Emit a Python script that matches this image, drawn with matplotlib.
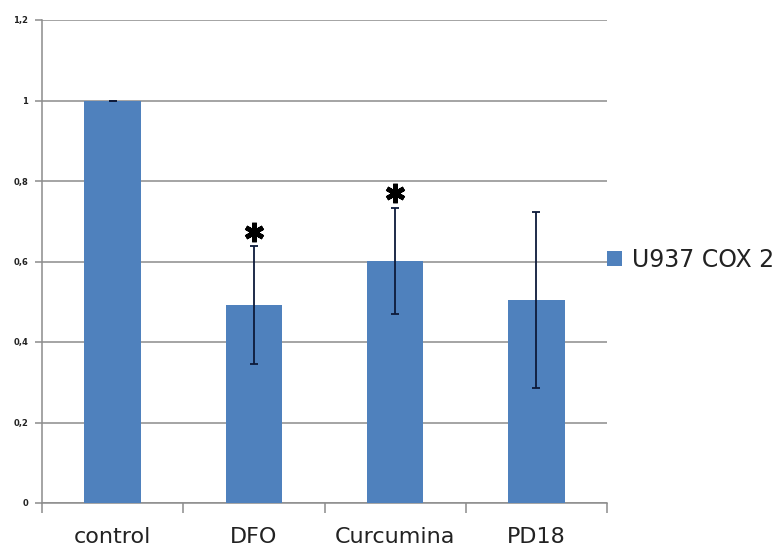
"""Bar chart: U937 COX 2 relative expression with error bars."""

import numpy as np
import matplotlib.pyplot as plt

categories = ['control', 'DFO', 'Curcumina', 'PD18']
values = [1.0, 0.492, 0.602, 0.504]
errors = [0.0, 0.147, 0.132, 0.218]
significant = [False, True, True, False]
series_name = 'U937 COX 2'
yticks = [0, 0.2, 0.4, 0.6, 0.8, 1.0, 1.2]
ytick_labels = ['0', '0,2', '0,4', '0,6', '0,8', '1', '1,2']

bar_color = '#4F81BD'
grid_color = '#8c8c8c'

fig = plt.figure(figsize=(7.84, 5.54), dpi=100)
ax = fig.add_axes([42/784, 51/554, 565/784, 483/554])

x = np.arange(len(categories))
ax.bar(x, values, width=0.4, color=bar_color, label=series_name, zorder=3)
ax.errorbar(x, values, yerr=errors, fmt='none', ecolor='#0d1a3a',
            elinewidth=1.3, capsize=3, capthick=1.3, zorder=4)

# significance stars just above the error bar tops
for xi, v, e, s in zip(x, values, errors, significant):
    if s:
        ax.plot(xi, v + e + 0.035, marker=(6, 2, 0), markersize=14,
                markeredgewidth=3.4, color='black', zorder=5)

ax.set_xlim(-0.5, len(categories) - 0.5)
ax.set_ylim(0, 1.2)
ax.set_yticks(yticks)
ax.set_yticklabels(ytick_labels, fontsize=6, fontweight='bold', color='#222222')
ax.yaxis.grid(True, color=grid_color, linewidth=1.1, zorder=0)

# category labels centered, ticks at boundaries
ax.set_xticks(x)
ax.set_xticklabels(categories, fontsize=16, color='#222222')
ax.tick_params(axis='x', which='major', length=0, pad=17)
ax.set_xticks(np.arange(len(categories) + 1) - 0.5, minor=True)
ax.tick_params(axis='x', which='minor', length=7, color=grid_color, width=1.1)
ax.tick_params(axis='y', length=5, color=grid_color, width=1.1, pad=5)

for side in ['top', 'right']:
    ax.spines[side].set_visible(False)
for side in ['left', 'bottom']:
    ax.spines[side].set_color(grid_color)
    ax.spines[side].set_linewidth(1.1)

fig.legend(loc='center left', bbox_to_anchor=(0.774, 0.531), frameon=False,
           fontsize=17, handlelength=0.65, handleheight=0.65, handletextpad=0.4,
           borderaxespad=0, borderpad=0, labelcolor='#222222')

fig.savefig('out.png', dpi=100)
